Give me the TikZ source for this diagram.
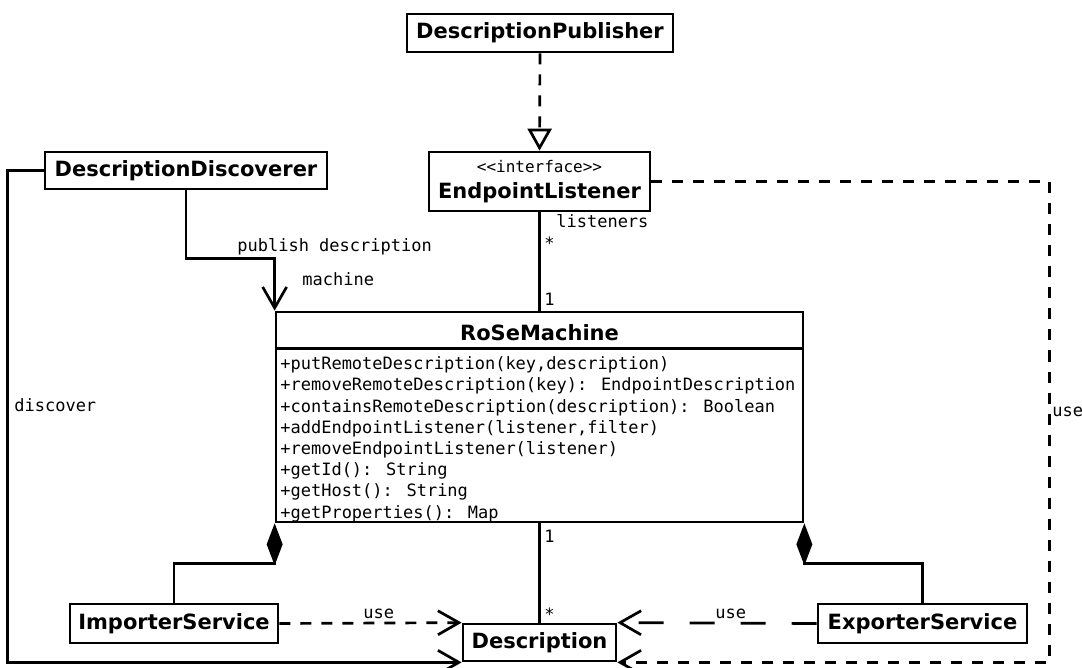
\documentclass[tikz,border=0pt]{standalone}
\usepackage{fontspec}
\setmainfont{DejaVu Sans}
\newfontfamily\umlmono{DejaVu Sans Mono}
\usetikzlibrary{arrows.meta}
\begin{document}
\begin{tikzpicture}[x=1pt,y=-1pt,
  line width=2.7pt,
  cls/.style={draw, inner sep=0pt, font=\fontsize{21}{25}\selectfont\bfseries},
  clstext/.style={inner sep=0pt, font=\fontsize{21}{25}\selectfont\bfseries},
  lbl/.style={inner sep=0pt, font=\umlmono\fontsize{17}{21}\selectfont},
  meth/.style={lbl, anchor=mid west},
  shortdash/.style={dash pattern=on 11pt off 10pt},
  longdash/.style={dash pattern=on 25pt off 26pt},
  openvee/.style={-{Straight Barb[length=21pt,width=24pt]}},
  realize/.style={-{Triangle[open,length=22pt,width=24pt]}},
  compo/.style={-{Diamond[length=42pt,width=16pt]}}
]
\useasboundingbox (0,0) rectangle (1082,668);

% classes
\node[cls, minimum width=266pt, minimum height=38pt] (pub) at (540,33) {DescriptionPublisher};
\node[cls, minimum width=221pt, minimum height=59pt] (el) at (539.5,181.5) {};
\node[lbl, font=\umlmono\fontsize{16}{19}\selectfont] (elster) at (539.5,167) {<{}<interface>{}>};
\node[clstext] (elname) at (539.5,193) {EndpointListener};
\node[cls, minimum width=282pt, minimum height=37pt] (dd) at (186,170.5) {DescriptionDiscoverer};
\node[draw, minimum width=527pt, minimum height=210pt, inner sep=0pt] (rose) at (539.5,417) {};
\node[clstext] (rosetitle) at (539.5,333) {RoSeMachine};
\draw ([yshift=-38pt]rose.north west) -- ([yshift=-38pt]rose.north east);
\node[meth] (m1) at (279,367) {+putRemoteDescription(key,description)};
\node[meth] (m2) at (279,388.2) {+removeRemoteDescription(key): EndpointDescription};
\node[meth] (m3) at (279,409.4) {+containsRemoteDescription(description): Boolean};
\node[meth] (m4) at (279,430.6) {+addEndpointListener(listener,filter)};
\node[meth] (m5) at (279,451.8) {+removeEndpointListener(listener)};
\node[meth] (m6) at (279,473) {+getId(): String};
\node[meth] (m7) at (279,494.2) {+getHost(): String};
\node[meth] (m8) at (279,515.4) {+getProperties(): Map};
\node[cls, minimum width=208pt, minimum height=39pt] (imp) at (174,623.5) {ImporterService};
\node[cls, minimum width=153pt, minimum height=37pt] (desc) at (539.5,642.5) {Description};
\node[cls, minimum width=209pt, minimum height=39pt] (exp) at (922.5,623.5) {ExporterService};

% connectors
\draw[shortdash, realize] (pub.south) -- (el.north);
\draw (el.south) -- (rose.north);
\draw (rose.south) -- (desc.north);
\draw[openvee] (dd.south) -- ++(0,68) -| (rose.north west);
\draw[openvee] (dd.west) -- ++(-36,0) |- (desc.south west);
\draw[compo] (imp.north) -- ++(0,-39) -| (rose.south west);
\draw[compo] (exp.north) -- ++(0,-39) -| (rose.south east);
\draw[shortdash, openvee] (imp.east) -- (desc.north west);
\draw[longdash, openvee] (exp.west) -- (desc.north east);
\draw[shortdash, openvee] (el.east) -- ++(398,0) |- (desc.south east);

% labels
\node[lbl, anchor=mid west] (lbllisteners) at (555,225) {listeners};
\node[lbl, anchor=base west] (lblstar1) at (543,250) {*};
\node[lbl, anchor=base west] (lblone1) at (543,306) {1};
\node[lbl, anchor=base west] (lblone2) at (543,542) {1};
\node[lbl, anchor=base west] (lblstar2) at (543,620) {*};
\node[lbl, anchor=mid west] (lblpublish) at (236,249) {publish description};
\node[lbl, anchor=mid west] (lblmachine) at (301,283) {machine};
\node[lbl, anchor=mid west] (lbldiscover) at (13,409) {discover};
\node[lbl, anchor=mid west] (lbluse1) at (362,616) {use};
\node[lbl, anchor=mid west] (lbluse2) at (714,616) {use};
\node[lbl, anchor=mid west] (lbluse3) at (1051,414) {use};
\end{tikzpicture}
\end{document}
